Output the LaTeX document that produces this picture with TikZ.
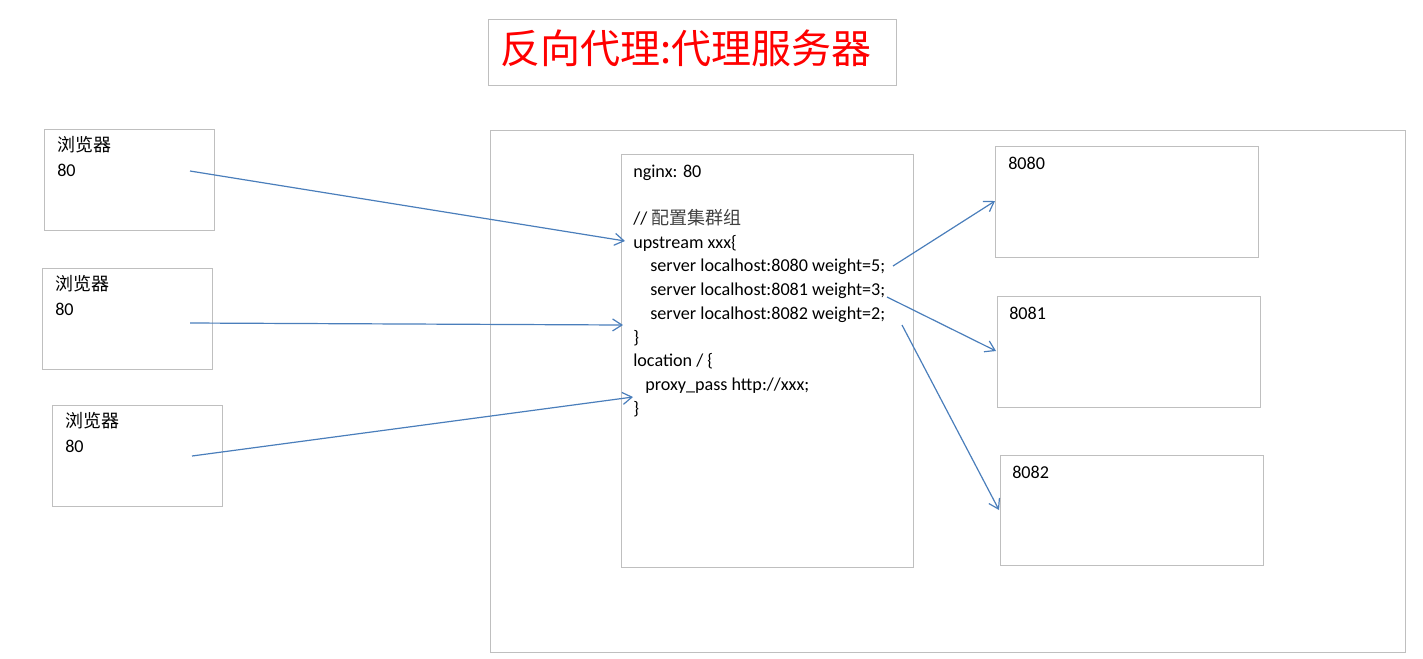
\documentclass[tikz,border=0pt]{standalone}
\usepackage{fontspec}
\setmainfont{Carlito}
\newfontfamily\cjk{Noto Sans CJK SC}
\usetikzlibrary{arrows.meta}
\definecolor{boxgray}{HTML}{BFBFBF}
\definecolor{arrowblue}{HTML}{4A7EBB}
\begin{document}
\begin{tikzpicture}[x=0.75pt,y=-0.75pt,
  box/.style={draw=boxgray,line width=0.75pt,inner sep=0pt,anchor=north west},
  txt/.style={anchor=base west,inner sep=0pt,font=\fontsize{13.6}{16}\selectfont},
  cjktxt/.style={anchor=base west,inner sep=0pt,font=\fontsize{13.5}{16}\selectfont\cjk},
  conn/.style={draw=arrowblue,line width=0.9pt,-{Straight Barb[length=7pt,width=9pt]}}]
\useasboundingbox (0,0) rectangle (1423,658);
% title
\node[box,minimum width=306pt,minimum height=49.5pt] (title) at (488,19) {};
\node[anchor=base west,inner sep=0pt,text=red,font=\fontsize{30}{34}\selectfont\cjk] (titletext) at (500,63) {反向代理:代理服务器};
% browsers
\node[box,minimum width=127.5pt,minimum height=75.75pt] (b1) at (44,129) {};
\node[cjktxt] (b1a) at (57,151) {浏览器};
\node[txt] (b1b) at (57,176) {80};
\node[box,minimum width=127.5pt,minimum height=75.75pt] (b2) at (42,268) {};
\node[cjktxt] (b2a) at (55,290) {浏览器};
\node[txt] (b2b) at (55,315) {80};
\node[box,minimum width=127.5pt,minimum height=75.75pt] (b3) at (52,405) {};
\node[cjktxt] (b3a) at (65,427) {浏览器};
\node[txt] (b3b) at (65,452) {80};
% outer
\node[box,minimum width=686.25pt,minimum height=391.5pt] (outer) at (490,130) {};
% nginx
\node[box,minimum width=219pt,minimum height=309.75pt] (nginx) at (621,154) {};
\node[txt] (l1) at (633,177) {nginx: 80};
\node[txt] (l3) at (633,224.5) {// {\cjk\fontsize{13.5}{16}\selectfont\color{black!75}配置集群组}};
\node[txt] (l4) at (633,248.2) {upstream xxx\{};
\node[txt] (l5) at (650,271.9) {server localhost:8080 weight=5;};
\node[txt] (l6) at (650,295.6) {server localhost:8081 weight=3;};
\node[txt] (l7) at (650,319.3) {server localhost:8082 weight=2;};
\node[txt] (l8) at (633,343) {\}};
\node[txt] (l9) at (633,366.7) {location / \{};
\node[txt] (l10) at (645,390.4) {proxy\_pass http://xxx;};
\node[txt] (l11) at (633,414.1) {\}};
% servers
\node[box,minimum width=197.25pt,minimum height=83.25pt] (s1) at (995,146) {};
\node[txt] (s1t) at (1008,169) {8080};
\node[box,minimum width=197.25pt,minimum height=83.25pt] (s2) at (997,296) {};
\node[txt] (s2t) at (1009,319) {8081};
\node[box,minimum width=197.25pt,minimum height=82.5pt] (s3) at (1000,455) {};
\node[txt] (s3t) at (1012,478) {8082};
% connector endpoints
\coordinate (b1o) at (190,171);
\coordinate (b2o) at (190,323);
\coordinate (b3o) at (192,456);
\coordinate (n1) at (625,241);
\coordinate (n2) at (623,325);
\coordinate (n3) at (633,397);
\coordinate (o1) at (893,266);
\coordinate (o2) at (887,297);
\coordinate (o3) at (902,325);
\coordinate (s1i) at (995,201);
\coordinate (s2i) at (996,351);
\coordinate (s3i) at (999,510);
\draw[conn] (b1o) -- (n1);
\draw[conn] (b2o) -- (n2);
\draw[conn] (b3o) -- (n3);
\draw[conn] (o1) -- (s1i);
\draw[conn] (o2) -- (s2i);
\draw[conn] (o3) -- (s3i);
\end{tikzpicture}
\end{document}
